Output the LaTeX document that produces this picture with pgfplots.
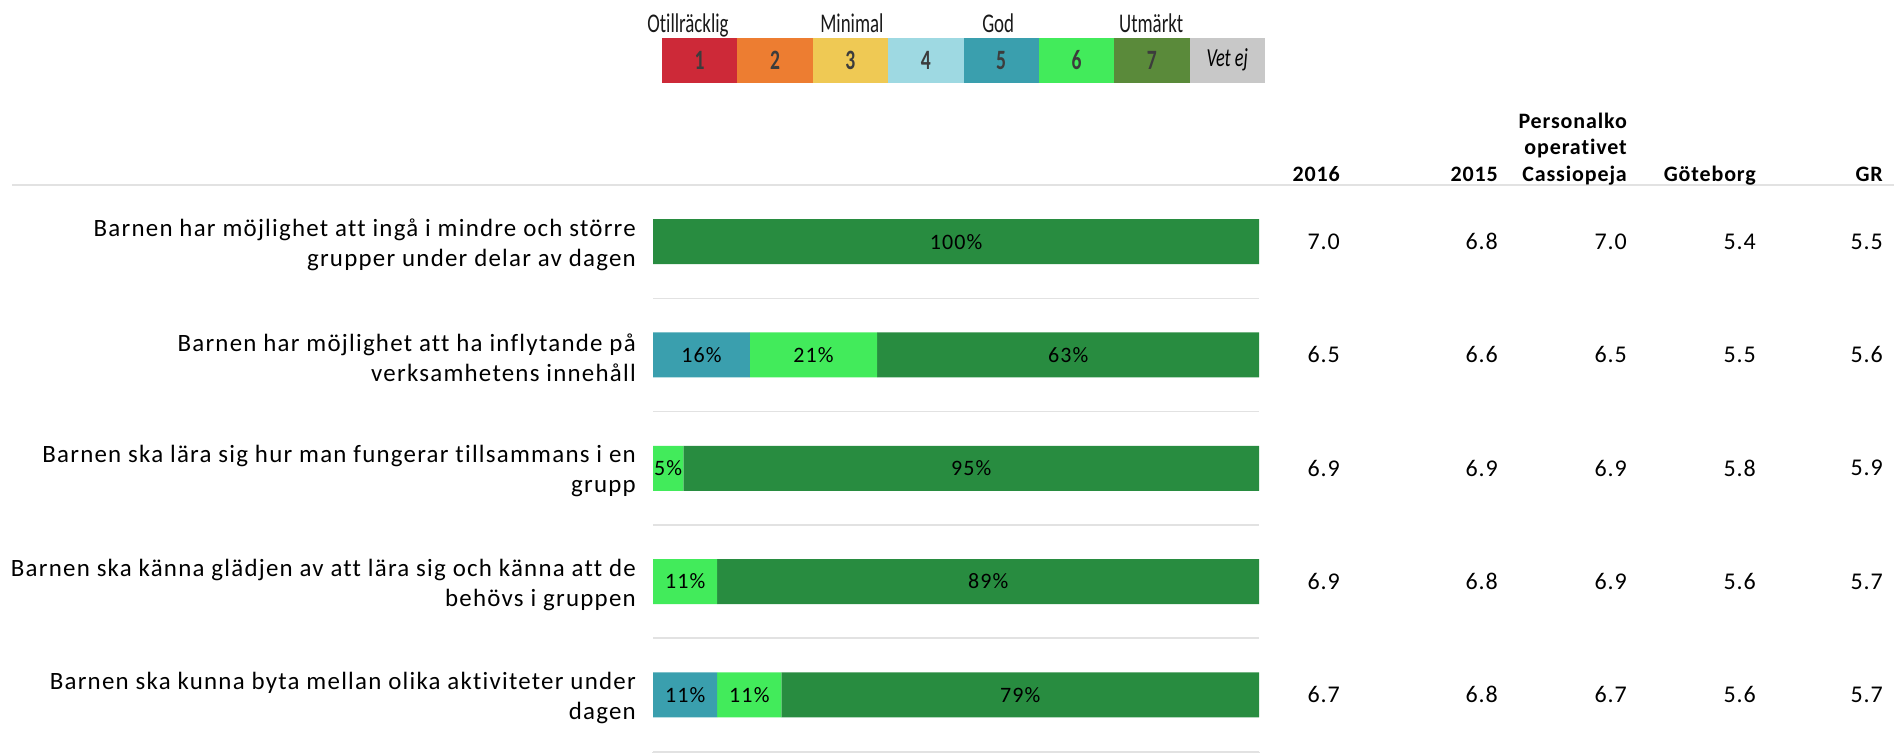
\documentclass[border=0pt]{standalone}
\usepackage{fontspec}
\setmainfont{Carlito}[Ligatures=NoCommon]
\usepackage{pgfplots}
\pgfplotsset{compat=1.18}
\usepackage{pgfplotstable}
\pgfkeys{/pgf/number format/assume math mode=true}
\newfontfamily\lab[LetterSpace=5,Ligatures=NoCommon]{Carlito}
\newfontfamily\hdr[LetterSpace=4,Ligatures=NoCommon]{Carlito}
\newfontfamily\legf[FakeStretch=0.7,Ligatures=NoCommon]{Carlito}
\newcommand\labfont{\lab\fontsize{24.9}{30}\selectfont}
\newcommand\barfont{\lab\fontsize{22}{26}\selectfont}
\newcommand\valfont{\hdr\fontsize{24}{29}\selectfont}
\newcommand\hdrfont{\hdr\bfseries\fontsize{22}{26}\selectfont}
\definecolor{c1}{HTML}{CD2938}
\definecolor{c2}{HTML}{ED7D31}
\definecolor{c3}{HTML}{EFC954}
\definecolor{c4}{HTML}{9ED9E2}
\definecolor{c5}{HTML}{3A9FAE}
\definecolor{c6}{HTML}{42EB5B}
\definecolor{c7}{HTML}{5A8A3A}
\definecolor{c8}{HTML}{C8C8C8}
\definecolor{b7}{HTML}{288C40}
\definecolor{legtext}{HTML}{3C3C3C}
\definecolor{sep}{HTML}{E2E2E2}

\pgfplotstableread{
row v5 v6 v7
0 0 0 100
1 16 21 63
2 0 5 95
3 0 10.6 89.4
4 10.6 10.6 78.8
}\bars

\pgfplotstableread{
row y16 y15 kc gb gr
0 7.0 6.8 7.0 5.4 5.5
1 6.5 6.6 6.5 5.5 5.6
2 6.9 6.9 6.9 5.8 5.9
3 6.9 6.8 6.9 5.6 5.7
4 6.7 6.8 6.7 5.6 5.7
}\vals

\begin{document}
\begin{tikzpicture}[x=1pt,y=1pt]
\useasboundingbox (0,0) rectangle (1894,-752);
\draw[sep, line width=2pt] (12,-185) -- (1894,-185);

% ---------- main bar chart ----------
\begin{axis}[
  at={(653pt,-751.5pt)}, anchor=south west, scale only axis,
  width=606pt, height=566.5pt,
  xmin=0, xmax=100, ymin=-0.5, ymax=4.5, y dir=reverse,
  axis line style={draw=none}, xtick=\empty,
  ytick={0,1,2,3,4}, ytick style={draw=none},
  yticklabels={
    {Barnen har möjlighet att ingå i mindre och större\\grupper under delar av dagen},
    {Barnen har möjlighet att ha inflytande på\\verksamhetens innehåll},
    {Barnen ska lära sig hur man fungerar tillsammans i en\\grupp},
    {Barnen ska känna glädjen av att lära sig och känna att de\\behövs i gruppen},
    {Barnen ska kunna byta mellan olika aktiviteter under\\dagen}},
  yticklabel style={align=right, font=\labfont, text=black, inner sep=0pt, xshift=-17pt, yshift=-3pt},
  xbar stacked, bar width=0.397, clip=false,
  point meta=rawx,
  nodes near coords={\pgfmathfloatifflags{\pgfplotspointmeta}{0}{}{\pgfmathprintnumber[fixed,precision=0]{\pgfplotspointmeta}\%}},
  every node near coord/.append style={anchor=center, font=\barfont, text=black, inner sep=0pt},
]
\addplot[fill=c5, draw=none] table[x=v5, y=row] {\bars};
\addplot[fill=c6, draw=none] table[x=v6, y=row] {\bars};
\addplot[fill=b7, draw=none] table[x=v7, y=row] {\bars};
\pgfplotsinvokeforeach{0.5,1.5,2.5,3.5}{
  \draw[sep, line width=1.5pt] (axis cs:0,#1) -- (axis cs:100,#1);
}
\draw[sep, line width=2pt] (axis cs:0,4.5) -- (axis cs:100,4.5);
\pgfplotsinvokeforeach{0,20,40,60,80,100}{
  \draw[sep, line width=1.5pt] (axis cs:#1,4.5) -- ++(0,6pt);
}
\end{axis}

% ---------- value columns ----------
\begin{axis}[
  at={(0pt,-751.5pt)}, anchor=south west, scale only axis,
  width=1894pt, height=566.5pt,
  xmin=0, xmax=1894, ymin=-0.5, ymax=4.5, y dir=reverse,
  hide axis, clip=false,
  point meta=explicit,
  nodes near coords={\pgfmathprintnumber[fixed,fixed zerofill,precision=1]{\pgfplotspointmeta}},
  every node near coord/.append style={anchor=east, inner sep=0pt, font=\valfont, text=black},
]
\addplot[draw=none, mark=none] table[x expr=1340, y=row, meta=y16] {\vals};
\addplot[draw=none, mark=none] table[x expr=1498, y=row, meta=y15] {\vals};
\addplot[draw=none, mark=none] table[x expr=1627, y=row, meta=kc] {\vals};
\addplot[draw=none, mark=none] table[x expr=1756, y=row, meta=gb] {\vals};
\addplot[draw=none, mark=none] table[x expr=1883, y=row, meta=gr] {\vals};
\node[anchor=base east, inner sep=0pt, font=\hdrfont, yshift=4pt] at (axis cs:1340,-0.5) {2016};
\node[anchor=base east, inner sep=0pt, font=\hdrfont, yshift=4pt] at (axis cs:1498,-0.5) {2015};
\node[anchor=base east, inner sep=0pt, font=\hdrfont, yshift=57pt] at (axis cs:1627,-0.5) {Personalko};
\node[anchor=base east, inner sep=0pt, font=\hdrfont, yshift=30.5pt] at (axis cs:1627,-0.5) {operativet};
\node[anchor=base east, inner sep=0pt, font=\hdrfont, yshift=4pt] at (axis cs:1627,-0.5) {Cassiopeja};
\node[anchor=base east, inner sep=0pt, font=\hdrfont, yshift=4pt] at (axis cs:1756,-0.5) {Göteborg};
\node[anchor=base east, inner sep=0pt, font=\hdrfont, yshift=4pt] at (axis cs:1883,-0.5) {GR};
\end{axis}

% ---------- colour scale legend ----------
\begin{axis}[
  at={(662pt,-82.7pt)}, anchor=south west, scale only axis,
  width=603pt, height=45pt,
  xmin=0, xmax=8, ymin=0, ymax=1,
  hide axis, clip=false,
  xbar stacked, bar width=1,
  point meta=explicit symbolic,
  nodes near coords,
  every node near coord/.append style={anchor=center, inner sep=0pt, font=\legf\bfseries\fontsize{28}{30}\selectfont, text=legtext},
]
\addplot[fill=c1, draw=none] coordinates {(1,0.5) [1]};
\addplot[fill=c2, draw=none] coordinates {(1,0.5) [2]};
\addplot[fill=c3, draw=none] coordinates {(1,0.5) [3]};
\addplot[fill=c4, draw=none] coordinates {(1,0.5) [4]};
\addplot[fill=c5, draw=none] coordinates {(1,0.5) [5]};
\addplot[fill=c6, draw=none] coordinates {(1,0.5) [6]};
\addplot[fill=c7, draw=none] coordinates {(1,0.5) [7]};
\addplot[fill=c8, draw=none, every node near coord/.append style={font=\legf\itshape\fontsize{26}{28}\selectfont, text=black}] coordinates {(1,0.5) [Vet ej]};
\node[anchor=base, inner sep=0pt, font=\legf\fontsize{27}{30}\selectfont, text=black!90, yshift=5pt] at (axis cs:0.345,1) {Otillräcklig};
\node[anchor=base, inner sep=0pt, font=\legf\fontsize{27}{30}\selectfont, text=black!90, yshift=5pt] at (axis cs:2.52,1) {Minimal};
\node[anchor=base, inner sep=0pt, font=\legf\fontsize{27}{30}\selectfont, text=black!90, yshift=5pt] at (axis cs:4.46,1) {God};
\node[anchor=base, inner sep=0pt, font=\legf\fontsize{27}{30}\selectfont, text=black!90, yshift=5pt] at (axis cs:6.49,1) {Utmärkt};
\end{axis}
\end{tikzpicture}
\end{document}
